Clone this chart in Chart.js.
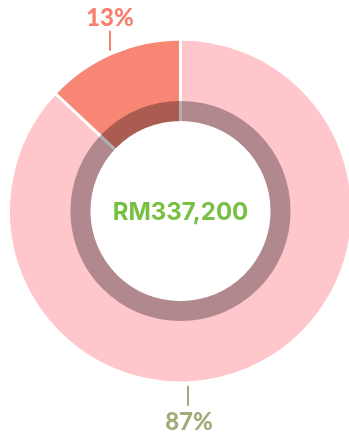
<!DOCTYPE html>
<html>
<head>
<meta charset="utf-8">
<script src="https://cdn.jsdelivr.net/npm/chart.js@4"></script>
<style>
  html, body { margin: 0; padding: 0; background: #fff; overflow: hidden; }
  #wrap { width: 349px; height: 436px; overflow: hidden; }
</style>
</head>
<body>
<div id="wrap"><canvas id="pie" width="354" height="436"></canvas></div>
<script>
// 资产分布
const categories = ['已投资', '现金'];
const shares = [87, 13];
const sliceColors = ['#FFC6CC', '#F78675'];
const labelColors = ['#A3AB7A', '#F7816E'];
const totalText = 'RM337,200';

// 外圈标签 + 引线
const labelPlugin = {
    id: 'sliceLabels',
    afterDatasetsDraw(chart) {
        const ctx = chart.ctx;
        const arcs = chart.getDatasetMeta(0).data;
        ctx.save();
        // 内圈暗色环（盖在扇区和白色分隔线上）
        const a0 = arcs[0];
        const rIn = a0.innerRadius + 1.5;
        ctx.beginPath();
        ctx.arc(a0.x, a0.y, rIn + 20, 0, Math.PI * 2);
        ctx.arc(a0.x, a0.y, rIn, 0, Math.PI * 2, true);
        ctx.fillStyle = 'rgba(0, 0, 0, 0.31)';
        ctx.fill();

        arcs.forEach((arc, i) => {
            const mid = (arc.startAngle + arc.endAngle) / 2;
            const r = arc.outerRadius - 1.5;
            // 大块的标签放在底部中间
            const x = shares[i] > 50 ? arc.x + 7.5 : arc.x + Math.cos(mid) * (r + 7);
            const dx = x - arc.x;
            const edge = Math.sqrt(Math.max(r * r - dx * dx, 0));
            const below = shares[i] > 50 || Math.sin(mid) > 0;
            ctx.strokeStyle = labelColors[i];
            ctx.fillStyle = labelColors[i];
            ctx.lineWidth = 2;
            ctx.font = '900 24px Lato';
            ctx.textAlign = 'center';
            ctx.textBaseline = 'alphabetic';
            ctx.beginPath();
            if (below) {
                const y0 = arc.y + edge + 4.5;
                ctx.moveTo(x, y0);
                ctx.lineTo(x, y0 + 20);
                ctx.stroke();
                ctx.fillText(shares[i] + '%', x + 1, y0 + 44);
            } else {
                const y0 = arc.y - edge - 5;
                ctx.moveTo(x, y0);
                ctx.lineTo(x, y0 - 20);
                ctx.stroke();
                ctx.fillText(shares[i] + '%', x, y0 - 25);
            }
        });

        // 中间总额
        ctx.font = 'bold 24px Inter';
        ctx.fillStyle = '#77C043';
        ctx.textAlign = 'center';
        ctx.textBaseline = 'middle';
        ctx.fillText(totalText, a0.x, a0.y + 2);
        ctx.restore();
    }
};

new Chart(document.getElementById('pie'), {
    type: 'doughnut',
    data: {
        labels: categories,
        datasets: [{
            data: shares,
            backgroundColor: sliceColors,
            borderColor: '#FFFFFF',
            borderWidth: 3,
            hoverOffset: 0
        }]
    },
    options: {
        responsive: false,
        animation: false,
        cutout: '51.5%',
        layout: { padding: { left: 7, top: 37.5, right: 0, bottom: 51.5 } },
        plugins: {
            legend: { display: false },
            tooltip: { enabled: false }
        }
    },
    plugins: [labelPlugin]
});
</script>
</body>
</html>
